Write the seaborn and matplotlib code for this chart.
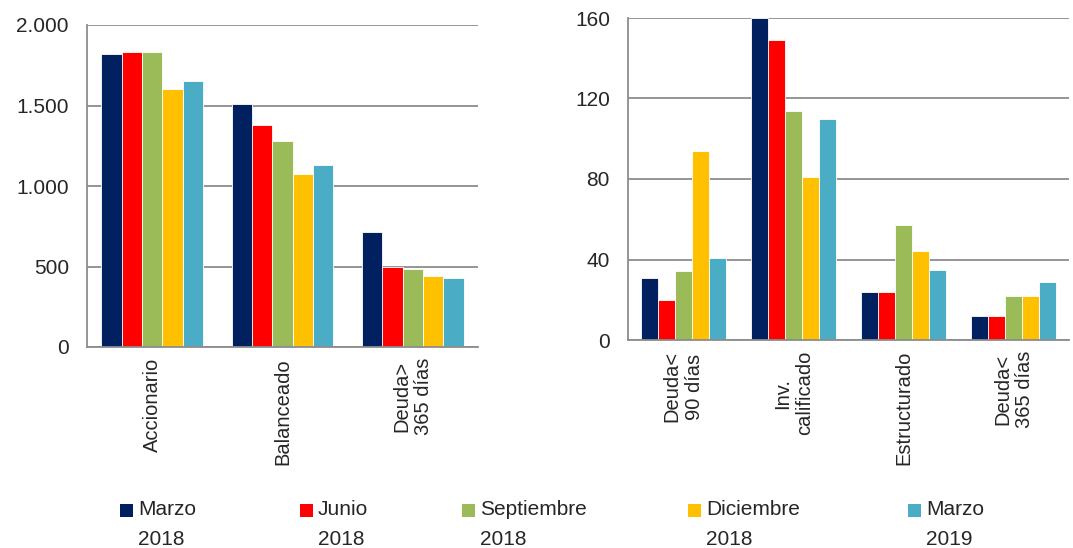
import matplotlib
matplotlib.use("Agg")
import matplotlib.pyplot as plt
import numpy as np
import pandas as pd
import seaborn as sns
from matplotlib.patches import Rectangle
from matplotlib.ticker import FuncFormatter

# --- data ---
periods = ["Marzo\n2018", "Junio\n2018", "Septiembre\n2018", "Diciembre\n2018", "Marzo\n2019"]
colors = ["#002060", "#FF0000", "#9BBB59", "#FFC000", "#4BACC6"]

left_categories = ["Accionario", "Balanceado", "Deuda>\n365 días"]
left_mar18 = [1818, 1511, 713]
left_jun18 = [1830, 1380, 497]
left_sep18 = [1830, 1281, 483]
left_dic18 = [1600, 1074, 440]
left_mar19 = [1654, 1130, 429]

right_categories = ["Deuda<\n90 días", "Inv.\ncalificado", "Estructurado", "Deuda<\n365 días"]
right_mar18 = [31, 160, 24, 12]
right_jun18 = [20, 149, 24, 12]
right_sep18 = [34.5, 114, 57, 22]
right_dic18 = [94, 81, 44, 22]
right_mar19 = [40.5, 110, 35, 29]

left_ticks = [0, 500, 1000, 1500, 2000]
right_ticks = [0, 40, 80, 120, 160]


def long_frame(categories, series):
    rows = []
    for period, values in zip(periods, series):
        for cat, val in zip(categories, values):
            rows.append({"categoria": cat, "periodo": period, "valor": val})
    return pd.DataFrame(rows)


left_df = long_frame(left_categories, [left_mar18, left_jun18, left_sep18, left_dic18, left_mar19])
right_df = long_frame(right_categories, [right_mar18, right_jun18, right_sep18, right_dic18, right_mar19])

sns.set_theme(style="white")
plt.rcParams["font.family"] = ["Liberation Sans", "DejaVu Sans"]

GRAY = "#8C8C8C"
W, H = 1073, 548
fig = plt.figure(figsize=(W / 100, H / 100), dpi=100)


def px_axes(x0, x1, y_top, y_bot):
    return fig.add_axes([x0 / W, 1 - y_bot / H, (x1 - x0) / W, (y_bot - y_top) / H])


def thousands(v, _):
    return f"{int(v):,}".replace(",", ".")


def draw_panel(ax, df, categories, ticks, width):
    sns.barplot(data=df, x="categoria", y="valor", hue="periodo", order=categories,
                hue_order=periods, palette=colors, saturation=1, width=width,
                edgecolor="white", linewidth=0.6, legend=False, ax=ax)
    n = len(categories)
    ax.set_xlim(-0.5, n - 0.5)
    ax.set_ylim(ticks[0], ticks[-1])
    ax.set_yticks(ticks)
    ax.yaxis.set_major_formatter(FuncFormatter(thousands))
    ax.set_xticks(range(n))
    ax.set_xticklabels(categories, rotation=90, va="top", ha="center",
                       multialignment="center", fontsize=14.5)
    ax.set_xticks(np.arange(-0.5, n), minor=True)
    ax.tick_params(axis="x", which="major", length=0, pad=8)
    ax.tick_params(axis="x", which="minor", length=7, width=1.3, color=GRAY)
    ax.tick_params(axis="y", length=6, width=1.3, color=GRAY, labelsize=15, pad=7)
    ax.set_xlabel("")
    ax.set_ylabel("")
    ax.yaxis.grid(True, color=GRAY, linewidth=1.3)
    ax.set_axisbelow(True)
    for side in ["top", "right"]:
        ax.spines[side].set_visible(False)
    for side in ["left", "bottom"]:
        ax.spines[side].set_color(GRAY)
        ax.spines[side].set_linewidth(1.3)


ax_left = px_axes(87, 478, 25, 347)
draw_panel(ax_left, left_df, left_categories, left_ticks, 0.78)

ax_right = px_axes(628, 1069, 18, 340)
draw_panel(ax_right, right_df, right_categories, right_ticks, 0.77)

# legend laid out like the original (uneven spacing)
legend_x = [120, 300, 462, 688, 908]
for x, period, color in zip(legend_x, periods, colors):
    fig.patches.append(Rectangle((x / W, 1 - 517 / H), 13 / W, 13 / H,
                                 transform=fig.transFigure, facecolor=color,
                                 edgecolor="none"))
    fig.text((x + 18) / W, 1 - 500 / H, period, ha="left", va="top",
             fontsize=15, linespacing=1.75)

fig.savefig("out.png", dpi=100)
